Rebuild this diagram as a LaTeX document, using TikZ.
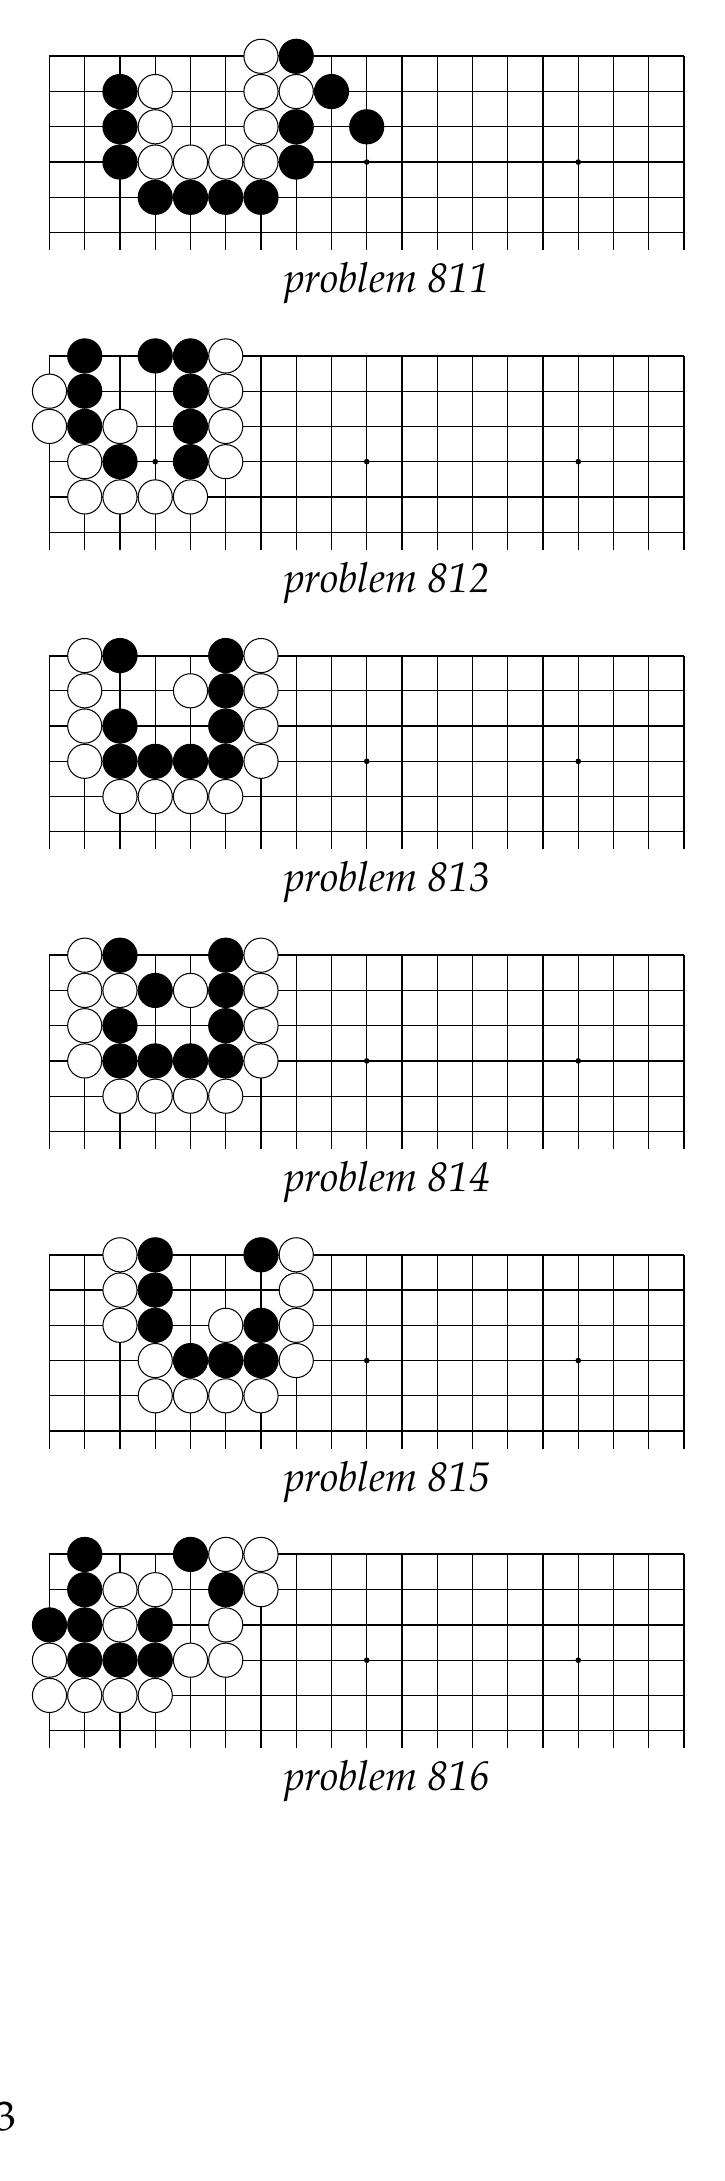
\documentclass[tikz,border=0pt]{standalone}
\usepackage[T1]{fontenc}
\usepackage{mathpazo}
\usetikzlibrary{positioning}
\tikzset{
  every picture/.style={line width=0.35pt},
  gridline/.style={line width=0.35pt},
  boardedge/.style={line width=0.45pt, line join=miter},
  topedge/.style={line width=0.6pt},
  wstone/.style={circle, draw=black, fill=white, line width=0.3pt, minimum size=0.348cm, inner sep=0pt},
  bstone/.style={wstone, fill=black},
  caption/.style={font=\fontsize{12}{14}\selectfont\itshape, anchor=base, inner sep=0pt},
  pagenum/.style={font=\fontsize{12}{14}\selectfont, anchor=base east, inner sep=0pt},
}

\begin{document}
\begin{tikzpicture}[x=0.3593cm, y=0.3593cm]
  \useasboundingbox (-1.404,1.597) rectangle (19.163,-60.275);
  % empty boards with captions
  \foreach \k/\n in {0/811,1/812,2/813,3/814,4/815,5/816} {
    \begin{scope}[shift={(0,-8.5*\k)}]
      \foreach \r in {1,...,5} \draw[gridline] (0,-\r) -- (18,-\r);
      \foreach \c in {1,...,17} \draw[gridline] (\c,0) -- (\c,-5.5);
      \draw[boardedge] (0,-5.5) -- (0,0);
      \draw[boardedge] (18,0) -- (18,-5.5);
      \draw[topedge] (0,0) -- (18,0);
      \foreach \c in {3,9,15} \fill (\c,-3) circle (0.08);
      \node[caption] (cap\n) at (9.575,-6.706) {problem \n};
    \end{scope}
  }
  % problem 811
  \begin{scope}[shift={(0,0)}]
    \foreach \c/\r in {6/0,3/1,6/1,7/1,3/2,6/2,3/3,4/3,5/3,6/3}
      \node[wstone] (w811-\c-\r) at (\c,-\r) {};
    \foreach \c/\r in {7/0,2/1,8/1,2/2,7/2,9/2,2/3,7/3,3/4,4/4,5/4,6/4}
      \node[bstone] (b811-\c-\r) at (\c,-\r) {};
  \end{scope}
  % problem 812
  \begin{scope}[shift={(0,-8.5)}]
    \foreach \c/\r in {5/0,0/1,5/1,0/2,2/2,5/2,1/3,5/3,1/4,2/4,3/4,4/4}
      \node[wstone] (w812-\c-\r) at (\c,-\r) {};
    \foreach \c/\r in {1/0,3/0,4/0,1/1,4/1,1/2,4/2,2/3,4/3}
      \node[bstone] (b812-\c-\r) at (\c,-\r) {};
  \end{scope}
  % problem 813
  \begin{scope}[shift={(0,-17)}]
    \foreach \c/\r in {1/0,6/0,1/1,4/1,6/1,1/2,6/2,1/3,6/3,2/4,3/4,4/4,5/4}
      \node[wstone] (w813-\c-\r) at (\c,-\r) {};
    \foreach \c/\r in {2/0,5/0,5/1,2/2,5/2,2/3,3/3,4/3,5/3}
      \node[bstone] (b813-\c-\r) at (\c,-\r) {};
  \end{scope}
  % problem 814
  \begin{scope}[shift={(0,-25.5)}]
    \foreach \c/\r in {1/0,6/0,1/1,2/1,4/1,6/1,1/2,6/2,1/3,6/3,2/4,3/4,4/4,5/4}
      \node[wstone] (w814-\c-\r) at (\c,-\r) {};
    \foreach \c/\r in {2/0,5/0,3/1,5/1,2/2,5/2,2/3,3/3,4/3,5/3}
      \node[bstone] (b814-\c-\r) at (\c,-\r) {};
  \end{scope}
  % problem 815
  \begin{scope}[shift={(0,-34)}]
    \foreach \c/\r in {2/0,7/0,2/1,7/1,2/2,5/2,7/2,3/3,7/3,3/4,4/4,5/4,6/4}
      \node[wstone] (w815-\c-\r) at (\c,-\r) {};
    \foreach \c/\r in {3/0,6/0,3/1,3/2,6/2,4/3,5/3,6/3}
      \node[bstone] (b815-\c-\r) at (\c,-\r) {};
  \end{scope}
  % problem 816
  \begin{scope}[shift={(0,-42.5)}]
    \foreach \c/\r in {5/0,6/0,2/1,3/1,6/1,2/2,5/2,0/3,4/3,5/3,0/4,1/4,2/4,3/4}
      \node[wstone] (w816-\c-\r) at (\c,-\r) {};
    \foreach \c/\r in {1/0,4/0,1/1,5/1,0/2,1/2,3/2,1/3,2/3,3/3}
      \node[bstone] (b816-\c-\r) at (\c,-\r) {};
  \end{scope}
  % page number
  \node[pagenum] (pageno) at (-0.922,-58.83) {3};
\end{tikzpicture}
\end{document}
